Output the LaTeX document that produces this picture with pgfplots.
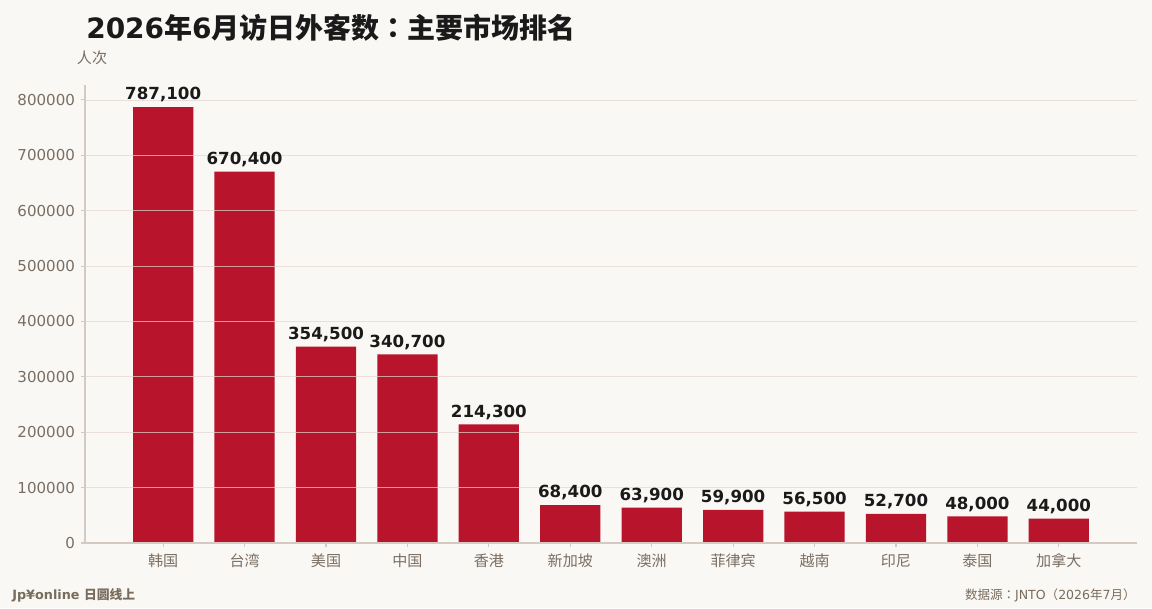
\documentclass[border=0pt]{standalone}
\usepackage{fontspec}
\setmainfont{DejaVu Sans}
\newfontfamily\cjk{Noto Sans CJK SC}
\newfontfamily\cjkp{Noto Sans CJK JP}
\usepackage{pgfplots}
\pgfplotsset{compat=1.18}
\usepackage{pgfplotstable}
\definecolor{bg}{RGB}{250,248,245}
\definecolor{barred}{RGB}{184,20,43}
\definecolor{ticktxt}{RGB}{122,110,98}
\definecolor{spine}{RGB}{212,202,194}
\definecolor{gridc}{RGB}{226,214,208}
\definecolor{dark}{RGB}{26,26,26}
\definecolor{foot}{RGB}{120,108,92}
\pgfplotstableread{
x y lab
0 787100 787,100
1 670400 670,400
2 354500 354,500
3 340700 340,700
4 214300 214,300
5 68400 68,400
6 63900 63,900
7 59900 59,900
8 56500 56,500
9 52700 52,700
10 48000 48,000
11 44000 44,000
}\visitors
\begin{document}
\begin{tikzpicture}
\fill[bg] (0,0) rectangle (864pt,456pt);
\useasboundingbox (0,0) rectangle (864pt,456pt);
\begin{axis}[
  at={(63.75pt,48.75pt)}, anchor=south west,
  scale only axis, width=789pt, height=343.5pt,
  xmin=-0.96, xmax=11.96, ymin=0, ymax=827000,
  axis x line*=bottom, axis y line*=left,
  axis line style={spine, line width=0.8pt},
  xtick={0,...,11},
  xticklabels={{\cjk 韩国},{\cjk 台湾},{\cjk 美国},{\cjk 中国},{\cjk 香港},{\cjk 新加坡},{\cjk 澳洲},{\cjk 菲律宾},{\cjk 越南},{\cjk 印尼},{\cjk 泰国},{\cjk 加拿大}},
  ytick={0,100000,200000,300000,400000,500000,600000,700000,800000},
  yticklabels={0,100000,200000,300000,400000,500000,600000,700000,800000},
  scaled y ticks=false,
  /pgf/number format/assume math mode=true,
  tick label style={font=\fontsize{11.3}{13}\selectfont, text=ticktxt},
  yticklabel style={xshift=-1pt},
  xticklabel style={yshift=-1.5pt},
  tick align=outside, major tick length=3pt,
  tick style={spine, line width=0.8pt},
  ymajorgrids, grid style={gridc, line width=0.6pt, opacity=0.7},
  axis on top,
  ybar, bar width=0.74,
  point meta=explicit symbolic,
  nodes near coords,
  nodes near coords style={font=\fontsize{12.5}{15}\selectfont\bfseries, text=dark, inner sep=2pt, yshift=1.5pt},
  clip=false,
]
\addplot[fill=barred, draw=none] table[x=x,y=y,meta=lab] {\visitors};
\end{axis}
\node[anchor=base west, text=dark, inner sep=0pt] at (64.5pt,427pt) {\fontsize{21}{25}\selectfont\bfseries 2026{\cjk\bfseries 年}6{\cjk\bfseries 月访日外客数}{\cjkp\bfseries ：}{\cjk\bfseries 主要市场排名}};
\node[anchor=base west, text=ticktxt, inner sep=0pt] at (57.5pt,408pt) {\fontsize{11.3}{13}\selectfont\cjk 人次};
\node[anchor=base west, text=foot, inner sep=0pt] at (9pt,6.5pt) {\fontsize{9.6}{11}\selectfont\bfseries Jp¥online {\cjk\bfseries 日圆线上}};
\node[anchor=base east, text=foot, inner sep=0pt] at (852pt,6.5pt) {\fontsize{9.4}{11}\selectfont{\cjk 数据源}{\cjkp ：}JNTO{\cjkp （}2026{\cjk 年}7{\cjk 月}{\cjkp ）}};
\end{tikzpicture}
\end{document}
